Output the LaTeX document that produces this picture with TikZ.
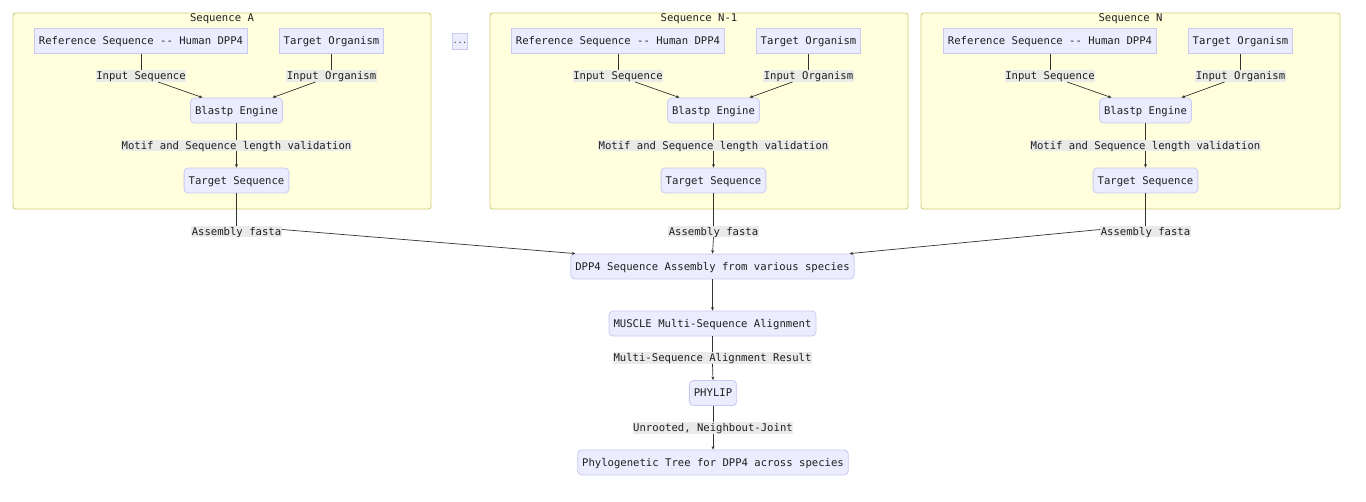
\documentclass[tikz,border=0pt]{standalone}
\usepackage{fontspec}
\setmonofont{DejaVu Sans Mono}
\usetikzlibrary{arrows.meta}
\definecolor{nodefill}{HTML}{ECECFF}
\definecolor{nodeline}{HTML}{C9C9F2}
\definecolor{clfill}{HTML}{FFFFDE}
\definecolor{clline}{HTML}{CFCF7A}
\definecolor{edgec}{HTML}{333333}
\definecolor{labbg}{HTML}{E8E8E8}
\tikzset{
  base/.style={font=\fontsize{10.6}{12}\selectfont\ttfamily, text=black!88, text height=9pt, text depth=1.5pt},
  sqbox/.style={base, draw=nodeline, fill=nodefill, line width=0.8pt, minimum height=25pt, inner xsep=4.5pt, inner ysep=0pt},
  rbox/.style={sqbox, rounded corners=4pt},
  cluster/.style={draw=clline, fill=clfill, line width=0.9pt, rounded corners=2.5pt},
  ctitle/.style={base, inner sep=0pt},
  lab/.style={base, fill=labbg, fill opacity=0.9, text opacity=1, inner xsep=0.5pt, inner ysep=0.5pt},
  edge/.style={draw=edgec, line width=0.7pt},
  arr/.style={edge, -{Stealth[length=3.5pt,width=3pt]}},
}
\begin{document}
\begin{tikzpicture}[x=1pt,y=-1pt]
\useasboundingbox[fill=white] (0,0) rectangle (1366,501);
% clusters
\draw[cluster] (13,13) rectangle (431,209);
\draw[cluster] (490,13) rectangle (908,209);
\draw[cluster] (921,13) rectangle (1340,209);
\node[ctitle] (tA) at (222,18) {Sequence A};
\node[ctitle] (tB) at (699,18) {Sequence N-1};
\node[ctitle] (tC) at (1130.5,18) {Sequence N};

\node[sqbox, minimum width=14pt, minimum height=16pt, inner sep=0pt, text height=4pt, text depth=0pt, font=\fontsize{8}{8}\selectfont\ttfamily] (dots) at (460,41) {...};

\foreach \nm/\off in {A/0, B/477, C/909}{
  \begin{scope}[xshift=\off pt]
  \node[sqbox] (ref\nm) at (141,41) {Reference Sequence -- Human DPP4};
  \node[sqbox] (org\nm) at (331.5,41) {Target Organism};
  \node[lab] (li\nm) at (141,76) {Input Sequence};
  \node[lab] (lo\nm) at (331.5,76) {Input Organism};
  \node[rbox] (bl\nm) at (236.5,110.5) {Blastp Engine};
  \node[lab] (lm\nm) at (236.5,145.5) {Motif and Sequence length validation};
  \node[rbox] (ts\nm) at (236.5,180.5) {Target Sequence};
  \node[lab] (la\nm) at (236.5,231.5) {Assembly fasta};
  \end{scope}
  \draw[edge] (ref\nm.south) -- (li\nm.north);
  \draw[arr] ([xshift=17pt]li\nm.south) -- ([xshift=-34pt]bl\nm.north);
  \draw[edge] (org\nm.south) -- (lo\nm.north);
  \draw[arr] ([xshift=-16pt]lo\nm.south) -- ([xshift=36pt]bl\nm.north);
  \draw[edge] (bl\nm.south) -- (lm\nm.north);
  \draw[arr] (lm\nm.south) -- (ts\nm.north);
  \draw[edge] (ts\nm.south) -- (la\nm.north);
}

\node[rbox] (asm) at (712.5,266.5) {DPP4 Sequence Assembly from various species};
\node[rbox] (mus) at (712.5,323.5) {MUSCLE Multi-Sequence Alignment};
\node[lab] (lmr) at (712.5,358) {Multi-Sequence Alignment Result};
\node[rbox] (phy) at (713,393) {PHYLIP};
\node[lab] (lun) at (713,428) {Unrooted, Neighbout-Joint};
\node[rbox] (tree) at (713,462.5) {Phylogenetic Tree for DPP4 across species};

\draw[arr] ([yshift=2pt]laA.east) -- ([xshift=5pt]asm.north west);
\draw[arr] (laB.south) -- (asm.north);
\draw[arr] ([yshift=2pt]laC.west) -- ([xshift=-5pt]asm.north east);
\draw[arr] (asm.south) -- (mus.north);
\draw[edge] (mus.south) -- (lmr.north);
\draw[arr] (lmr.south) -- (phy.north);
\draw[edge] (phy.south) -- (lun.north);
\draw[arr] (lun.south) -- (tree.north);
\end{tikzpicture}
\end{document}
